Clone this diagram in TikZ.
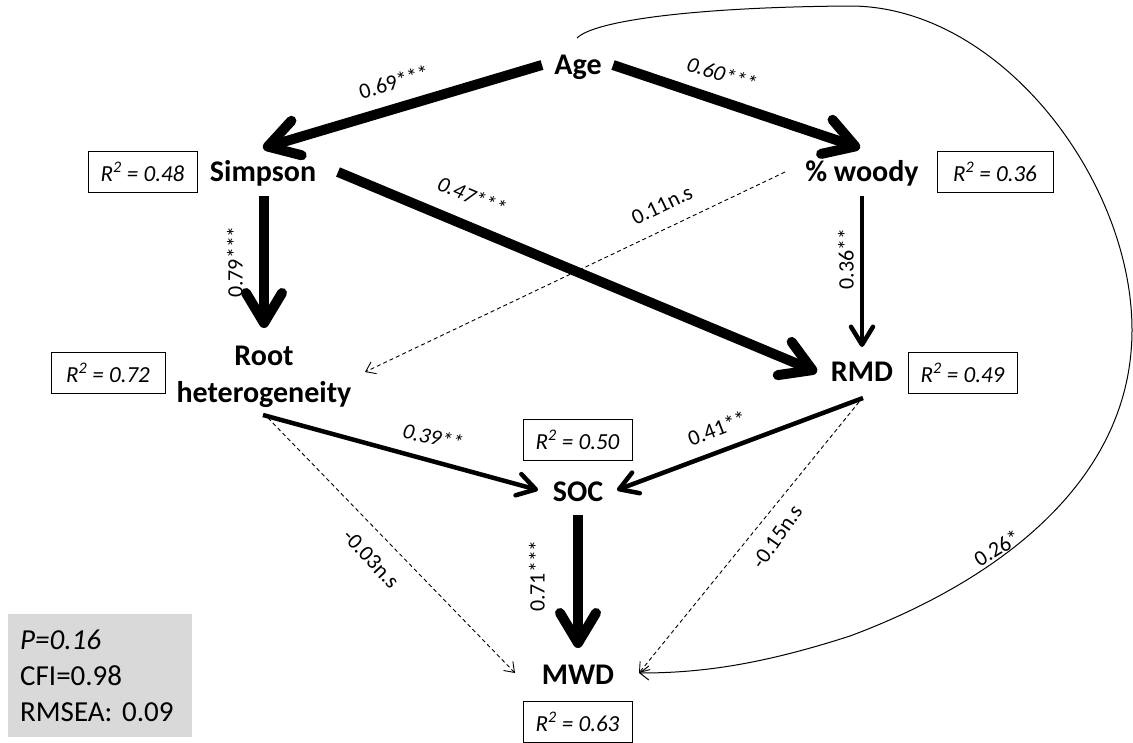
\documentclass[tikz,border=0pt]{standalone}
\usepackage{fontspec}
\setmainfont{Carlito}
\usetikzlibrary{arrows.meta,calc}
\definecolor{boxgray}{RGB}{217,217,217}
\frenchspacing
\begin{document}
\begin{tikzpicture}[x=1pt,y=-1pt,
  var/.style={font=\fontsize{30}{37}\selectfont\bfseries, inner sep=0pt, text height=22pt, text depth=4pt},
  var2/.style={font=\fontsize{30}{37}\selectfont\bfseries, inner sep=0pt, align=center},
  rsq/.style={draw, line width=1pt, minimum height=41pt, inner sep=0pt, font=\fontsize{23}{27}\selectfont\itshape},
  lab/.style={font=\fontsize{22}{26}\selectfont, inner sep=0pt},
  ilab/.style={font=\fontsize{22}{26}\selectfont\itshape, inner sep=0pt},
  big/.style={line width=10pt, -{Straight Barb[length=30pt,width=36pt,round]}},
  mid/.style={line width=4.5pt, -{Straight Barb[length=18pt,width=22pt,round]}},
  ns/.style={line width=0.9pt, dash pattern=on 4pt off 3pt, -{Straight Barb[length=9pt,width=13pt]}},
  cov/.style={line width=1pt, -{Straight Barb[length=9pt,width=14pt]}},
  fitbox/.style={fill=boxgray, anchor=north west, minimum width=183pt, minimum height=123pt, text width=160pt, inner xsep=12pt, align=left, font=\fontsize{29}{36}\selectfont}
]
\useasboundingbox (0,0) rectangle (1133,742);

% variables
\node[var] (Age) at (578,65) {Age};
\node[var] (Simpson) at (263,172) {Simpson};
\node[var] (Woody) at (862,172) {\% woody};
\node[var2] (Root) at (264,377) {Root\\heterogeneity};
\node[var] (RMD) at (862,372) {RMD};
\node[var] (SOC) at (578,492) {SOC};
\node[var] (MWD) at (578,675) {MWD};

% R2 boxes
\node[rsq, minimum width=109pt] (rSimpson) at (142.5,171.5) {R\textsuperscript{2} = 0.48};
\node[rsq, minimum width=116pt] (rWoody) at (995,171.5) {R\textsuperscript{2} = 0.36};
\node[rsq, minimum width=114pt] (rRoot) at (108,372.5) {R\textsuperscript{2} = 0.72};
\node[rsq, minimum width=109pt] (rRMD) at (962.5,372.5) {R\textsuperscript{2} = 0.49};
\node[rsq, minimum width=109pt] (rSOC) at (577.5,439.5) {R\textsuperscript{2} = 0.50};
\node[rsq, minimum width=109pt] (rMWD) at (577.5,722) {R\textsuperscript{2} = 0.63};

% fit box
\node[fitbox] (fit) at (8,614) {\textit{P=0.16}\\CFI=0.98\\RMSEA: 0.09};

% paths
\draw[big] ($(Age)+(-36,0)$) -- ($(Simpson)+(0,-24)$);
\draw[big] ($(Age)+(35,0)$) -- ($(Woody)+(-2,-24)$);
\draw[big] ($(Simpson)+(75,0)$) -- ($(RMD)+(-45,0)$);
\draw[big] ($(Simpson)+(1,24)$) -- ($(Root)+(0,-49)$);
\draw[mid] ($(Woody)+(0,24)$) -- ($(RMD)+(0,-25)$);
\draw[ns] ($(Woody)+(-77,0)$) -- ($(Root)+(101,-5)$);
\draw[mid] ($(Root)+(-1,38)$) -- ($(SOC)+(-40,-2)$);
\draw[mid] ($(RMD)+(1,26)$) -- ($(SOC)+(39,-2)$);
\draw[big] ($(SOC)+(0,23)$) -- ($(MWD)+(0,-27)$);
\draw[ns] ($(Root)+(4,41)$) -- ($(MWD)+(-63,-2)$);
\draw[ns] ($(RMD)+(-3,30)$) -- ($(MWD)+(61,-2)$);
\draw[cov] ($(Age)+(-1,-27)$) .. controls (595,20) and (700,7) .. (850,6)
  .. controls (1000,6) and (1132,180) .. (1132,330)
  .. controls (1132,480) and (1000,580) .. (850,636)
  .. controls (760,665) and (700,673) .. ($(MWD)+(61,-2)$);

% labels
\node[lab, rotate=16.5] (l1) at (394,82) {0.69***};
\node[ilab, rotate=-17.8] (l2) at (722,74) {0.60***};
\node[ilab, rotate=-22.7] (l3) at (472,196) {0.47***};
\node[lab, rotate=90] (l4) at (235,262) {0.79***};
\node[lab, rotate=25.5] (l5) at (662,205) {0.11n.s};
\node[lab, rotate=90] (l6) at (846,259) {0.36**};
\node[ilab, rotate=-13] (l7) at (433,437) {0.39**};
\node[lab, rotate=21] (l8) at (717,428) {0.41**};
\node[lab, rotate=90] (l9) at (537,576) {0.71***};
\node[lab, rotate=-47] (l10) at (371,559) {-0.03n.s};
\node[lab, rotate=55] (l11) at (777,537) {-0.15n.s};
\node[lab, rotate=32] (l12) at (997,548) {0.26*};
\end{tikzpicture}
\end{document}
